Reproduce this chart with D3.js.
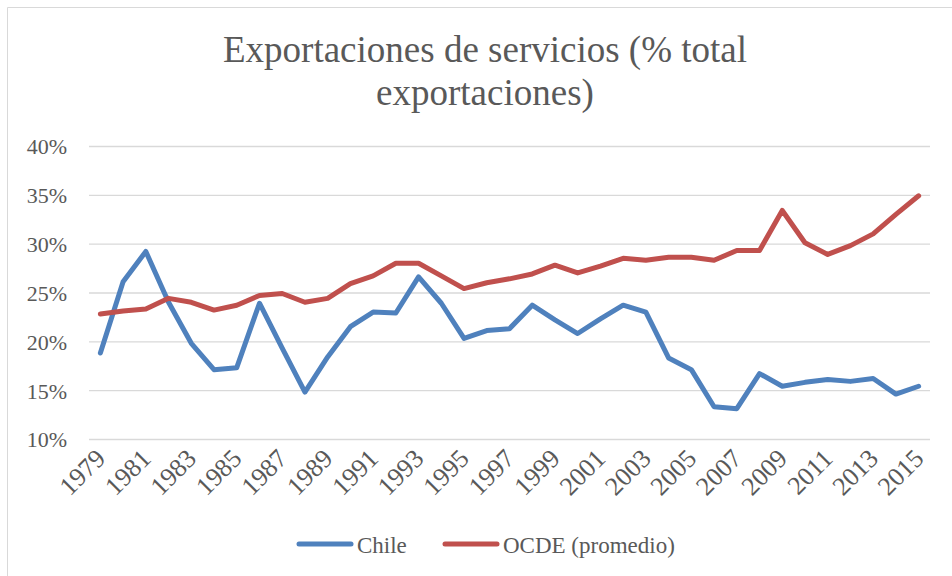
<!DOCTYPE html>
<html>
<head>
<meta charset="utf-8">
<script src="https://cdn.jsdelivr.net/npm/d3@7"></script>
<style>
  body { margin: 0; background: #fff; }
</style>
</head>
<body>
<svg id="chart" width="952" height="576"></svg>
<script>
const years = d3.range(1979, 2016);
const chile = [18.8, 26.1, 29.2, 24.0, 19.8, 17.1, 17.3, 23.9, 19.3, 14.8,
               18.4, 21.5, 23.0, 22.9, 26.6, 23.9, 20.3, 21.1, 21.3, 23.7,
               22.2, 20.8, 22.3, 23.7, 23.0, 18.3, 17.1, 13.3, 13.1, 16.7,
               15.4, 15.8, 16.1, 15.9, 16.2, 14.6, 15.4];
const ocde = [22.8, 23.1, 23.3, 24.4, 24.0, 23.2, 23.7, 24.7, 24.9, 24.0,
              24.4, 25.9, 26.7, 28.0, 28.0, 26.7, 25.4, 26.0, 26.4, 26.9,
              27.8, 27.0, 27.7, 28.5, 28.3, 28.6, 28.6, 28.3, 29.3, 29.3,
              33.4, 30.1, 28.9, 29.8, 31.0, 33.0, 34.9];
const yTicks = [10, 15, 20, 25, 30, 35, 40];
const xTickYears = years.filter(y => (y - 1979) % 2 === 0);
const seriesNames = ["Chile", "OCDE (promedio)"];
const colors = ["#4f81bd", "#c0504d"];

const font = "Liberation Serif";
const textColor = "#595959";

const svg = d3.select("#chart");

// light frame of the chart object
svg.append("path")
    .attr("d", "M7.5,576 V7.5 H952")
    .attr("fill", "none")
    .attr("stroke", "#d9d9d9")
    .attr("stroke-width", 1);

const plot = { left: 89, right: 930, top: 146, bottom: 439 };

const x = d3.scalePoint()
    .domain(years)
    .range([plot.left, plot.right])
    .padding(0.5);

const y = d3.scaleLinear()
    .domain([10, 40])
    .range([plot.bottom, plot.top]);

// title
const title = svg.append("text")
    .attr("text-anchor", "middle")
    .attr("font-family", font)
    .attr("fill", textColor)
    .attr("font-size", 37);
title.append("tspan").attr("x", 485).attr("y", 62).text("Exportaciones de servicios (% total");
title.append("tspan").attr("x", 485).attr("y", 105).text("exportaciones)");

// gridlines + y labels
const yAxis = svg.append("g")
    .attr("transform", `translate(${plot.left},0)`)
    .call(d3.axisLeft(y).tickValues(yTicks).tickSize(-(plot.right - plot.left)).tickFormat(d => d + "%"));
yAxis.select(".domain").remove();
yAxis.selectAll("line").attr("stroke", "#d9d9d9").attr("stroke-width", 1.3);
yAxis.selectAll("text")
    .attr("x", -22)
    .attr("dy", "0.36em")
    .attr("font-size", 22)
    .attr("font-family", font)
    .attr("fill", textColor);

// x labels
const xAxis = svg.append("g")
    .attr("transform", `translate(0,${plot.bottom})`)
    .call(d3.axisBottom(x).tickValues(xTickYears).tickSize(0));
xAxis.select(".domain").remove();
xAxis.selectAll("text")
    .attr("font-size", 26)
    .attr("font-family", font)
    .attr("fill", textColor)
    .attr("text-anchor", "end")
    .attr("dy", 0)
    .attr("y", 0)
    .attr("transform", "translate(6,21) rotate(-45)");

// lines
const line = d3.line()
    .x((d, i) => x(years[i]))
    .y(d => y(d));

[chile, ocde].forEach((s, k) => {
    svg.append("path")
        .datum(s)
        .attr("d", line)
        .attr("fill", "none")
        .attr("stroke", colors[k])
        .attr("stroke-width", 5)
        .attr("stroke-linejoin", "round")
        .attr("stroke-linecap", "round");
});

// legend
const legendX = [299, 445];
seriesNames.forEach((name, k) => {
    const g = svg.append("g").attr("transform", `translate(${legendX[k]},544)`);
    g.append("line")
        .attr("x1", 0).attr("x2", 52)
        .attr("stroke", colors[k])
        .attr("stroke-width", 5)
        .attr("stroke-linecap", "round");
    g.append("text")
        .attr("x", 58)
        .attr("y", 9)
        .attr("font-family", font)
        .attr("fill", textColor)
        .attr("font-size", 23)
        .text(name);
});
</script>
</body>
</html>
